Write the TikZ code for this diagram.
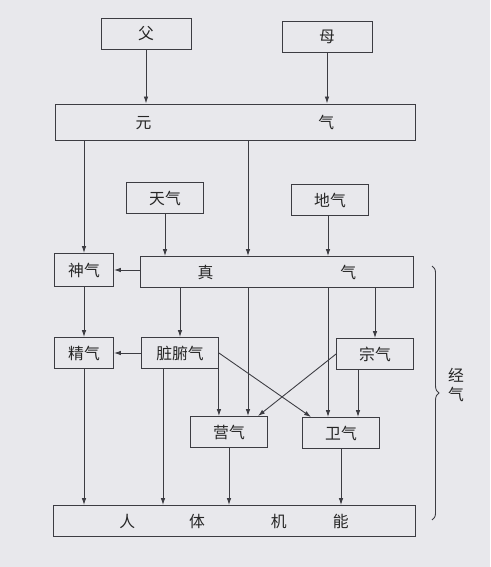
\documentclass[tikz,border=0pt]{standalone}
\usepackage{fontspec}
\newfontfamily\cjk{Noto Sans CJK SC}
\usetikzlibrary{arrows.meta,calc,decorations.pathreplacing}
\definecolor{paper}{RGB}{232,232,236}
\definecolor{ink}{RGB}{60,60,66}
\begin{document}
\begin{tikzpicture}[x=0.02cm,y=-0.02cm,>={Latex[length=4pt,width=2.6pt]},
  font=\cjk\fontsize{9}{11}\selectfont,text=black!85,
  box/.style={draw=ink,line width=.5pt,minimum height=.62cm,inner sep=0pt},
  smallbox/.style={box,minimum width=1.54cm},
  flow/.style={->,draw=ink,line width=.5pt}]
\fill[paper] (0,0) rectangle (490,567);
\node[box,minimum width=1.8cm] (fu) at (146,34) {父};
\node[box,minimum width=1.8cm] (mu) at (327,37) {母};
\node[box,minimum width=7.2cm,minimum height=.72cm] (yuanqi) at (235,122)
  {元\hspace{3.34cm}气};
\node[smallbox] (tianqi) at (165,198) {天气};
\node[smallbox] (diqi) at (330,200) {地气};
\node[box,minimum width=5.46cm] (zhenqi) at (277,272)
  {真\hspace{2.54cm}气};
\node[box,minimum width=1.18cm,minimum height=.66cm] (shenqi) at (84,270) {神气};
\node[box,minimum width=1.18cm] (jingqi) at (84,353) {精气};
\node[smallbox] (zangfu) at (180,353) {脏腑气};
\node[smallbox] (zongqi) at (375,354) {宗气};
\node[smallbox] (yingqi) at (229,432) {营气};
\node[smallbox] (weiqi) at (341,433) {卫气};
\node[box,minimum width=7.24cm] (renti) at (234,521)
  {人\hspace{1.08cm}体\hspace{1.32cm}机\hspace{0.92cm}能};
\coordinate (colA) at (248,0);
\coordinate (colB) at (328,0);
\coordinate (zf) at ($(zangfu.south)+(-17,0)$);
\coordinate (zq) at ($(zongqi.south)+(-17,0)$);
\draw[flow] (fu.south) -- (fu.south |- yuanqi.north);
\draw[flow] (mu.south) -- (mu.south |- yuanqi.north);
\draw[flow] (yuanqi.south -| shenqi.north) -- (shenqi.north);
\draw[flow] (yuanqi.south -| colA) -- (zhenqi.north -| colA);
\draw[flow] (tianqi.south) -- (tianqi.south |- zhenqi.north);
\draw[flow] (diqi.south -| colB) -- (zhenqi.north -| colB);
\draw[flow] (zhenqi.west |- shenqi.east) -- (shenqi.east);
\draw[flow] (shenqi.south) -- (jingqi.north);
\draw[flow] (zhenqi.south -| zangfu.north) -- (zangfu.north);
\draw[flow] (zhenqi.south -| zongqi.north) -- (zongqi.north);
\draw[flow] (zangfu.west) -- (zangfu.west -| jingqi.east);
\draw[flow] (zhenqi.south -| colA) -- (yingqi.north -| colA);
\draw[flow] (zhenqi.south -| colB) -- (weiqi.north -| colB);
\draw[flow] (zangfu.south east) -- (zangfu.south east |- yingqi.north);
\draw[flow] (zongqi.west) -- ($(yingqi.north east)+(-10,0)$);
\draw[flow] (zangfu.east) -- ($(weiqi.north west)+(9,0)$);
\draw[flow] (zq) -- (zq |- weiqi.north);
\draw[flow] (jingqi.south) -- (jingqi.south |- renti.north);
\draw[flow] (zf) -- (zf |- renti.north);
\draw[flow] (yingqi.south) -- (yingqi.south |- renti.north);
\draw[flow] (weiqi.south) -- (weiqi.south |- renti.north);
\coordinate (btop) at (432,266);
\coordinate (bbot) at (432,520);
\draw[ink,line width=.5pt,decorate,decoration={brace,amplitude=4pt}] (btop) -- (bbot);
\node[align=center,inner sep=0pt] (jingqilbl) at (456,385) {经\\气};
\end{tikzpicture}
\end{document}
